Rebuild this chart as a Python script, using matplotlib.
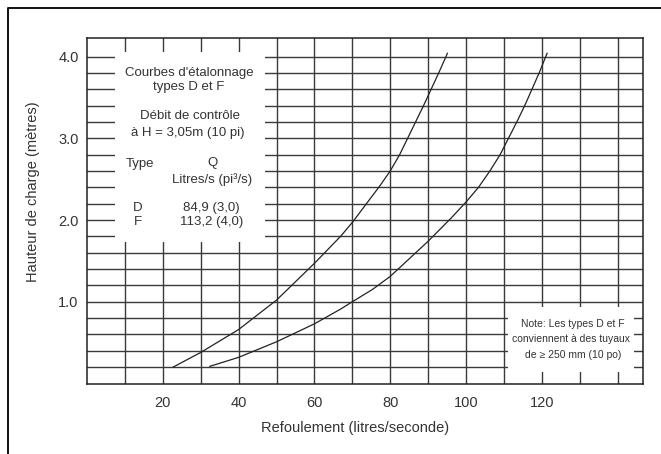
"""
Courbes d'étalonnage, types D et F: hauteur de charge vs refoulement.
"""
import matplotlib.pyplot as plt
from matplotlib.lines import Line2D
from matplotlib.patches import Rectangle

# values
q_d = [22.7, 30, 40, 50, 60, 66.9, 70, 77.3, 80, 82.5, 84.6, 86.7, 88.8, 90.8, 92.8, 95.1]
h_d = [0.20, 0.38, 0.66, 1.02, 1.47, 1.80, 1.97, 2.42, 2.60, 2.80, 3.00, 3.20, 3.40, 3.60, 3.80, 4.04]

q_f = [32.4, 40, 50, 60, 66.9, 70, 75.3, 80, 90, 96.2, 100, 103.3, 106.3, 109.0,
       111.2, 113.4, 115.5, 117.4, 119.3, 121.4]
h_f = [0.21, 0.32, 0.51, 0.73, 0.91, 1.00, 1.15, 1.31, 1.74, 2.03, 2.22, 2.40, 2.60, 2.80,
       3.00, 3.20, 3.40, 3.60, 3.80, 4.04]

x_ticks = [20, 40, 60, 80, 100, 120]
y_ticks = [1.0, 2.0, 3.0, 4.0]
x_grid = list(range(10, 150, 10))
y_grid = [round(0.2 * i, 1) for i in range(1, 21)]

FONT = ['Liberation Sans', 'DejaVu Sans']
plt.rcParams['font.family'] = FONT

W, H = 661, 454
fig = plt.figure(figsize=(W / 100, H / 100), dpi=100)


def fx(px):
    return px / W


def fy(py):
    return 1 - py / H


ax = fig.add_axes([fx(87), fy(383.5), fx(643) - fx(87), fy(38) - fy(383.5)])
ax.set_xlim(0, 146.7)
ax.set_ylim(0, 4.227)

for x in x_grid:
    ax.axvline(x, color='#3a3a3a', lw=1.0, zorder=1)
for y in y_grid:
    ax.axhline(y, color='#3a3a3a', lw=1.0, zorder=1)

# white boxes that blank out the grid
ax.add_patch(Rectangle((7.4, 1.73), 39.6, 2.325, facecolor='white', edgecolor='none', zorder=2))
ax.add_patch(Rectangle((111.1, 0.14), 33.2, 0.80, facecolor='white', edgecolor='none', zorder=2))

ax.plot(q_d, h_d, color='#222222', lw=0.9, zorder=3)
ax.plot(q_f, h_f, color='#222222', lw=0.9, zorder=3)

for s in ax.spines.values():
    s.set_linewidth(1.1)
    s.set_color('#222222')
    s.set_zorder(4)

ax.set_xticks(x_ticks)
ax.set_yticks(y_ticks)
ax.set_xticklabels([str(v) for v in x_ticks])
ax.set_yticklabels([f'{v:.1f}' for v in y_ticks])
ax.tick_params(length=0, labelsize=10.5, colors='#333333')
ax.tick_params(axis='x', pad=9)
ax.tick_params(axis='y', pad=6)

tc = '#333333'
box = dict(ha='center', va='center', fontsize=9.5, color=tc, zorder=5)
ax.text(27.0, 3.80, "Courbes d'étalonnage", **box)
ax.text(26.7, 3.63, 'types D et F', **box)
ax.text(27.2, 3.27, 'Débit de contrôle', **box)
ax.text(26.7, 3.07, 'à H = 3,05m (10 pi)', **box)
ax.text(10.3, 2.68, 'Type', ha='left', va='center', fontsize=9.5, color=tc, zorder=5)
ax.text(33.2, 2.70, 'Q', **box)
ax.text(33.0, 2.49, 'Litres/s (pi³/s)', **box)
ax.text(13.5, 2.15, 'D', **box)
ax.text(32.9, 2.15, '84,9 (3,0)', **box)
ax.text(13.5, 1.98, 'F', **box)
ax.text(32.9, 1.98, '113,2 (4,0)', **box)

note = dict(ha='center', va='center', fontsize=7.5, color=tc, zorder=5)
ax.text(128.2, 0.73, 'Note: Les types D et F', **note)
ax.text(127.6, 0.54, 'conviennent à des tuyaux', **note)
ax.text(128.2, 0.35, 'de ≥ 250 mm (10 po)', **note)

fig.text(fx(355), fy(428), 'Refoulement (litres/seconde)', ha='center', va='center',
         fontsize=10.5, color=tc)
fig.text(fx(33), fy(192), 'Hauteur de charge (mètres)', ha='center', va='center',
         rotation=90, fontsize=10.5, color=tc)

# outer frame (open at right and bottom)
fig.add_artist(Line2D([fx(8), fx(8), fx(661)], [fy(454), fy(8), fy(8)],
                      transform=fig.transFigure, color='#111111', lw=1.4))

fig.savefig('out.png', dpi=100)
